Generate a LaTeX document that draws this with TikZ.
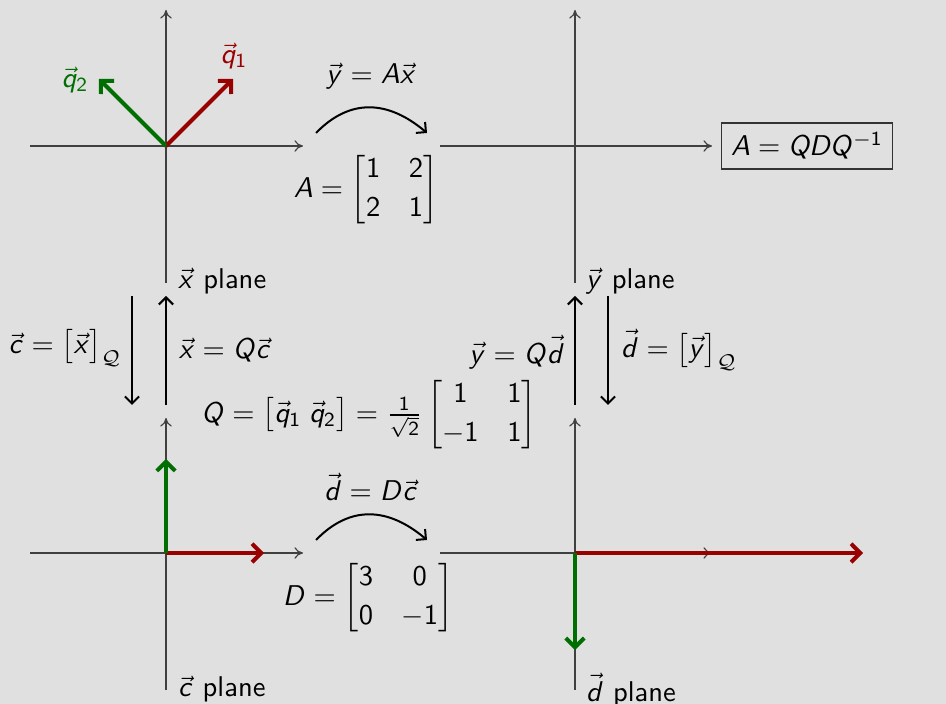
\documentclass[tikz,border=0pt]{standalone}
\usepackage{amsmath}
\DeclareSymbolFont{sfletters}{OT1}{cmss}{m}{it}
\DeclareSymbolFont{sfoperators}{OT1}{cmss}{m}{n}
\DeclareMathSymbol{A}{\mathalpha}{sfletters}{`A}
\DeclareMathSymbol{D}{\mathalpha}{sfletters}{`D}
\DeclareMathSymbol{Q}{\mathalpha}{sfletters}{`Q}
\DeclareMathSymbol{c}{\mathalpha}{sfletters}{`c}
\DeclareMathSymbol{d}{\mathalpha}{sfletters}{`d}
\DeclareMathSymbol{q}{\mathalpha}{sfletters}{`q}
\DeclareMathSymbol{x}{\mathalpha}{sfletters}{`x}
\DeclareMathSymbol{y}{\mathalpha}{sfletters}{`y}
\DeclareMathSymbol{0}{\mathalpha}{sfoperators}{`0}
\DeclareMathSymbol{1}{\mathalpha}{sfoperators}{`1}
\DeclareMathSymbol{2}{\mathalpha}{sfoperators}{`2}
\DeclareMathSymbol{3}{\mathalpha}{sfoperators}{`3}
\DeclareMathSymbol{=}{\mathrel}{sfoperators}{`=}
\usetikzlibrary{arrows.meta}
\definecolor{bgcol}{RGB}{224,224,224}
\definecolor{qred}{RGB}{153,0,0}
\definecolor{qgreen}{RGB}{0,110,0}
\tikzset{
  axis/.style={draw=black!75, line width=0.4pt, -{To[length=3pt,width=4pt]}},
  vecred/.style={draw=qred, line width=1.4pt, -{Straight Barb[length=3.2pt,width=6.5pt]}},
  vecgreen/.style={draw=qgreen, line width=1.4pt, -{Straight Barb[length=3.2pt,width=6.5pt]}},
  maparrow/.style={draw=black, line width=0.7pt, -{Straight Barb[length=2.5pt,width=5pt]}},
  lbl/.style={font=\sffamily},
}
\begin{document}
\begin{tikzpicture}[x=0.35pt,y=-0.35pt, every node/.style={lbl}]
\fill[bgcol] (0,0) rectangle (946,704);
\useasboundingbox (0,0) rectangle (946,704);
% ---- top-left axes (x plane)
\coordinate (o1) at (166,146);
\coordinate (h1a) at (30,146);  \coordinate (h1b) at (303,146);
\coordinate (v1a) at (166,283); \coordinate (v1b) at (166,10);
\draw[axis] (h1a) -- (h1b);
\draw[axis] (v1a) -- (v1b);
\coordinate (q1e) at (233,79);
\coordinate (q2e) at (99,79);
\draw[vecred] (o1) -- (q1e);
\draw[vecgreen] (o1) -- (q2e);
\node[text=qred] (q1l) at (234,56) {$\vec q_1$};
\node[text=qgreen] (q2l) at (75,80) {$\vec q_2$};
\node[anchor=west] (xpl) at (168,281) {$\vec x$ plane};
% ---- top-right axes (y plane)
\coordinate (o2) at (575,146);
\coordinate (h2a) at (440,146); \coordinate (h2b) at (712,146);
\coordinate (v2a) at (575,283); \coordinate (v2b) at (575,10);
\draw[axis] (h2a) -- (h2b);
\draw[axis] (v2a) -- (v2b);
\node[anchor=west] (ypl) at (576,281) {$\vec y$ plane};
\node[draw=black!80, line width=0.5pt] (box) at (807,146) {$A = QDQ^{-1}$};
% ---- top map arrow
\coordinate (ca1) at (316,133); \coordinate (cb1) at (427,133);
\draw[maparrow] (ca1) .. controls (350,98) and (388,100) .. (cb1);
\node (yax) at (371,76) {$\vec y = A\vec x$};
\node (Amat) at (366,190) {$A = \begin{bmatrix}1 & 2\\[1.5pt] 2 & 1\end{bmatrix}$};
% ---- vertical change of basis arrows
\coordinate (l1t) at (132,296); \coordinate (l1b) at (132,405);
\coordinate (l2t) at (166,296); \coordinate (l2b) at (166,405);
\draw[maparrow] (l1t) -- (l1b);
\draw[maparrow] (l2b) -- (l2t);
\node (cx) at (65,348) {$\vec c = \bigl[\vec x\bigr]_{\mathcal{Q}}$};
\node (xqc) at (225,350) {$\vec x = Q\vec c$};
\coordinate (r1t) at (575,296); \coordinate (r1b) at (575,405);
\coordinate (r2t) at (608,296); \coordinate (r2b) at (608,405);
\draw[maparrow] (r1b) -- (r1t);
\draw[maparrow] (r2t) -- (r2b);
\node (yqd) at (517,352) {$\vec y = Q\vec d$};
\node (dy) at (679,350) {$\vec d = \bigl[\vec y\bigr]_{\mathcal{Q}}$};
\node (Qmat) at (369,415) {$Q = \bigl[\vec q_1\;\vec q_2\bigr] = \frac{1}{\sqrt{2}}\begin{bmatrix}1 & 1\\[1.5pt] -1 & 1\end{bmatrix}$};
% ---- bottom-left axes (c plane)
\coordinate (o3) at (166,553);
\coordinate (h3a) at (30,553);  \coordinate (h3b) at (303,553);
\coordinate (v3a) at (166,690); \coordinate (v3b) at (166,418);
\draw[axis] (h3a) -- (h3b);
\draw[axis] (v3a) -- (v3b);
\coordinate (c1e) at (264,553);
\coordinate (c2e) at (166,459);
\draw[vecred] (o3) -- (c1e);
\draw[vecgreen] (o3) -- (c2e);
\node[anchor=west] (cpl) at (168,689) {$\vec c$ plane};
% ---- bottom-right axes (d plane)
\coordinate (o4) at (575,553);
\coordinate (h4a) at (440,553); \coordinate (h4b) at (712,553);
\coordinate (v4a) at (575,690); \coordinate (v4b) at (575,418);
\draw[axis] (h4a) -- (h4b);
\draw[axis] (v4a) -- (v4b);
\coordinate (d1e) at (863,553);
\coordinate (d2e) at (575,650);
\draw[vecred] (o4) -- (d1e);
\draw[vecgreen] (o4) -- (d2e);
\node[anchor=west] (dpl) at (576,690) {$\vec d$ plane};
% ---- bottom map arrow
\coordinate (ca2) at (316,540); \coordinate (cb2) at (427,540);
\draw[maparrow] (ca2) .. controls (350,505) and (388,507) .. (cb2);
\node (ddc) at (371,487) {$\vec d = D\vec c$};
\node (Dmat) at (368,598) {$D = \begin{bmatrix}3 & 0\\[1.5pt] 0 & -1\end{bmatrix}$};
\end{tikzpicture}
\end{document}
